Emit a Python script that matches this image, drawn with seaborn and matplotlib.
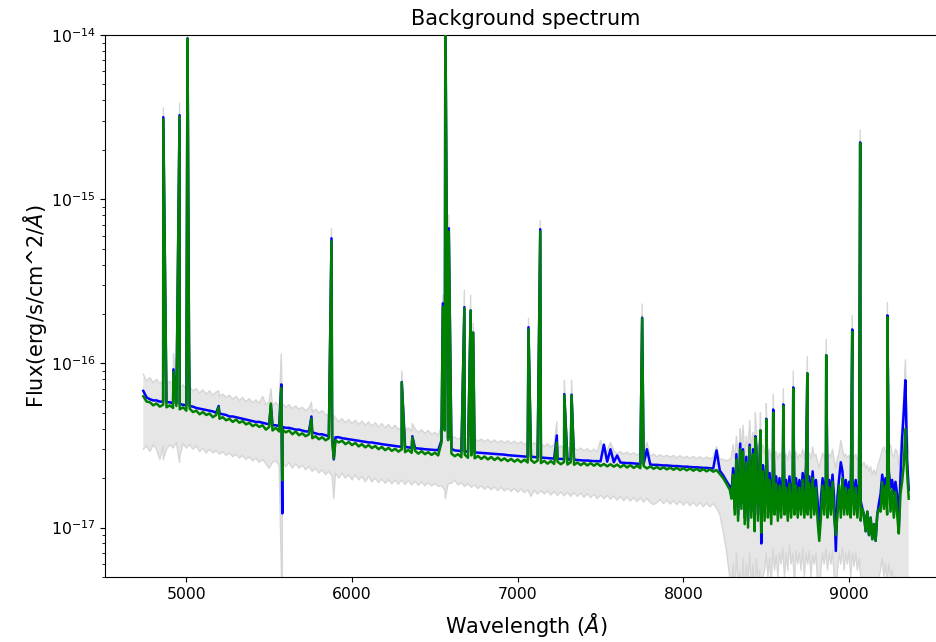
import numpy as np
import matplotlib
matplotlib.use("Agg")
import matplotlib.pyplot as plt
import seaborn as sns

# Sampling: 20 A steps over 4740-8280 A, 10 A steps over the red, sky-dominated part 8290-9360 A
seg_a_start, seg_a_step, seg_a_count = 4740, 20, 178
seg_b_start, seg_b_step, seg_b_count = 8290, 10, 108

# Fluxes in units of 1e-17 erg/s/cm^2/A
flux_green = [
    6.3, 5.85, 5.8, 5.55, 5.7, 5.45, 5.6, 5.4, 5.55, 5.35,
    5.5, 5.25, 5.4, 5.15, 5.3, 5.05, 5.15, 4.9, 5.05, 4.85,
    4.95, 4.7, 4.85, 4.6, 4.7, 4.5, 4.6, 4.4, 4.55, 4.35,
    4.45, 4.25, 4.35, 4.15, 4.25, 4.1, 4.2, 3.95, 4.1, 3.9,
    4.05, 3.85, 3.95, 3.8, 3.9, 3.7, 3.85, 3.65, 3.75, 3.6,
    3.7, 3.5, 3.6, 3.45, 3.55, 3.4, 3.5, 3.35, 3.4, 3.3,
    3.38, 3.22, 3.32, 3.18, 3.28, 3.12, 3.22, 3.08, 3.18, 3.05,
    3.14, 3.0, 3.1, 2.96, 3.06, 2.93, 3.02, 2.9, 3.0, 2.88,
    2.97, 2.85, 2.94, 2.82, 2.92, 2.8, 2.88, 2.77, 2.86, 2.75,
    3.3, 3.9, 3.4, 2.82, 2.72, 2.8, 2.68, 2.78, 2.66, 2.75,
    2.64, 2.73, 2.62, 2.71, 2.6, 2.69, 2.58, 2.67, 2.56, 2.64,
    2.54, 2.62, 2.52, 2.6, 2.5, 2.59, 2.49, 2.58, 2.48, 2.56,
    2.47, 2.55, 2.45, 2.54, 2.44, 2.52, 2.43, 2.51, 2.42, 2.5,
    2.41, 2.49, 2.4, 2.48, 2.39, 2.47, 2.38, 2.46, 2.37, 2.44,
    2.36, 2.43, 2.35, 2.42, 2.33, 2.41, 2.32, 2.4, 2.31, 2.38,
    2.3, 2.37, 2.29, 2.36, 2.28, 2.34, 2.27, 2.33, 2.26, 2.32,
    2.25, 2.31, 2.24, 2.3, 2.23, 2.29, 2.22, 2.28, 2.21, 2.27,
    2.2, 2.26, 2.19, 2.24, 2.12, 2.0, 1.85, 1.7,
    # 8290 A onwards
    1.5, 2.1, 1.2, 2.6, 1.1, 2.3, 1.3, 2.9, 1.05, 2.5,
    1.0, 3.1, 1.15, 2.8, 0.95, 2.9, 1.1, 2.4, 0.93, 2.2,
    1.1, 2.2, 1.15, 1.95, 1.05, 2.0, 1.2, 1.85, 1.1, 1.8,
    1.15, 1.9, 1.2, 1.75, 1.1, 1.85, 1.15, 1.7, 1.2, 1.8,
    1.15, 1.75, 1.2, 1.95, 1.15, 1.7, 1.2, 1.85, 1.15, 2.0,
    1.2, 1.75, 1.1, 0.83, 1.15, 1.8, 1.2, 1.85, 1.15, 1.75,
    1.2, 1.9, 1.15, 0.9, 1.2, 1.8, 1.15, 2.0, 1.2, 1.75,
    1.2, 1.7, 1.15, 1.8, 1.2, 1.75, 1.15, 1.65, 1.1, 1.3,
    1.2, 0.95, 1.25, 0.9, 1.15, 0.85, 1.05, 0.83, 1.2, 1.3,
    1.25, 1.9, 1.3, 1.8, 1.2, 1.95, 1.25, 1.7, 1.15, 1.65,
    1.2, 0.92, 1.6, 1.9, 2.4, 4.0, 2.2, 1.5,
]

flux_blue = [
    6.8, 6.2, 6.05, 5.95, 5.95, 5.85, 5.85, 5.8, 5.8, 5.7,
    5.75, 5.65, 5.6, 5.55, 5.5, 5.45, 5.35, 5.3, 5.25, 5.2,
    5.15, 5.1, 5.0, 4.95, 4.9, 4.85, 4.75, 4.75, 4.7, 4.65,
    4.6, 4.55, 4.5, 4.45, 4.4, 4.4, 4.35, 4.3, 4.25, 4.2,
    4.2, 4.15, 4.1, 4.05, 4.05, 4.0, 3.95, 3.95, 3.9, 3.85,
    3.85, 3.8, 3.75, 3.7, 3.7, 3.65, 3.6, 3.6, 3.55, 3.55,
    3.5, 3.48, 3.45, 3.43, 3.4, 3.38, 3.35, 3.33, 3.3, 3.3,
    3.27, 3.25, 3.22, 3.2, 3.18, 3.16, 3.14, 3.12, 3.1, 3.1,
    3.08, 3.06, 3.05, 3.03, 3.02, 3.0, 2.99, 2.98, 2.97, 2.96,
    3.4, 4.0, 3.5, 3.02, 2.95, 2.94, 2.92, 2.91, 2.9, 2.89,
    2.87, 2.86, 2.85, 2.84, 2.83, 2.82, 2.81, 2.8, 2.79, 2.78,
    2.76, 2.75, 2.74, 2.73, 2.72, 2.71, 2.7, 2.7, 2.69, 2.68,
    2.67, 2.66, 2.65, 2.64, 2.63, 2.62, 2.62, 2.61, 2.6, 2.6,
    2.59, 2.58, 2.57, 2.56, 2.56, 2.55, 2.54, 2.54, 2.53, 3.2,
    2.52, 3.0, 2.5, 2.75, 2.49, 2.48, 2.47, 2.47, 2.46, 2.45,
    2.44, 2.44, 3.0, 2.42, 2.41, 2.41, 2.4, 2.39, 2.39, 2.38,
    2.37, 2.37, 2.36, 2.35, 2.35, 2.34, 2.33, 2.33, 2.32, 2.31,
    2.31, 2.3, 2.29, 2.95, 2.22, 2.08, 1.92, 1.78,
    # 8290 A onwards
    1.6, 2.3, 1.3, 2.8, 1.2, 2.5, 1.4, 3.0, 1.15, 2.7,
    1.1, 3.2, 1.25, 3.0, 1.05, 3.1, 1.2, 2.6, 0.8, 2.4,
    1.45, 2.4, 1.5, 2.15, 1.4, 2.2, 1.55, 2.05, 1.45, 2.0,
    1.5, 2.1, 1.55, 1.95, 1.45, 2.05, 1.5, 1.9, 1.55, 2.0,
    1.5, 1.95, 1.55, 2.15, 1.5, 2.4, 1.55, 2.05, 1.5, 2.2,
    1.55, 1.95, 1.45, 0.9, 1.5, 2.0, 1.55, 2.05, 1.5, 1.95,
    1.55, 2.1, 1.5, 0.72, 1.55, 2.0, 2.5, 2.2, 1.55, 1.95,
    1.55, 1.9, 1.5, 2.0, 1.55, 1.95, 1.5, 1.85, 1.45, 1.3,
    1.2, 0.95, 1.25, 0.9, 1.15, 0.85, 1.05, 0.83, 1.2, 1.4,
    1.6, 2.1, 1.75, 2.0, 1.65, 2.2, 1.75, 1.95, 1.6, 1.9,
    1.6, 1.0, 2.0, 3.5, 5.0, 7.9, 2.6, 1.7,
]

# Upper and lower envelope of the uncertainty band
band_upper = [
    8.6, 7.8, 8.2, 7.6, 8.0, 7.5, 7.9, 7.4, 7.8, 7.3,
    7.6, 7.1, 7.4, 6.9, 7.2, 6.8, 7.0, 6.6, 6.9, 6.5,
    6.8, 6.4, 6.7, 6.3, 6.5, 6.2, 6.4, 6.05, 6.3, 5.95,
    6.2, 5.85, 6.1, 5.75, 6.0, 5.7, 6.3, 5.6, 5.85, 5.55,
    5.8, 5.45, 5.7, 5.4, 5.6, 5.3, 5.5, 5.25, 5.4, 5.15,
    5.35, 5.05, 5.25, 5.0, 5.15, 4.9, 4.8, 4.55, 4.65, 4.4,
    4.6, 4.35, 4.55, 4.3, 4.5, 4.25, 4.45, 4.2, 4.4, 4.15,
    4.35, 4.1, 4.3, 4.05, 4.25, 4.0, 4.2, 3.95, 4.1, 3.9,
    4.05, 3.85, 4.0, 3.8, 3.95, 3.75, 3.9, 3.7, 3.8, 3.65,
    4.2, 4.8, 4.2, 3.6, 3.55, 3.45, 3.55, 3.4, 3.5, 3.38,
    3.48, 3.35, 3.46, 3.33, 3.44, 3.3, 3.42, 3.28, 3.4, 3.27,
    3.38, 3.25, 3.36, 3.23, 3.34, 3.2, 3.32, 3.18, 3.3, 3.15,
    3.27, 3.12, 3.24, 3.1, 3.2, 3.05, 3.15, 3.02, 3.1, 2.98,
    3.08, 2.95, 3.05, 2.92, 3.02, 2.9, 3.0, 2.88, 3.4, 2.86,
    2.95, 3.3, 2.93, 2.82, 2.9, 2.8, 2.88, 2.78, 2.86, 2.76,
    2.84, 2.74, 3.3, 2.72, 2.8, 2.7, 2.78, 2.69, 2.76, 2.68,
    2.75, 2.66, 2.74, 2.65, 2.72, 2.64, 2.71, 2.63, 2.7, 2.62,
    2.69, 2.62, 2.68, 3.1, 2.62, 2.6, 2.55, 2.6,
    # 8290 A onwards
    2.7, 3.2, 2.6, 3.6, 2.8, 3.4, 2.9, 4.2, 2.8, 3.6,
    2.9, 4.5, 3.0, 3.8, 2.8, 4.0, 3.0, 3.4, 2.7, 3.2,
    2.8, 3.3, 2.7, 3.0, 2.6, 3.1, 2.75, 2.9, 2.6, 2.85,
    2.7, 3.0, 2.6, 2.8, 2.55, 2.95, 2.65, 2.75, 2.6, 2.9,
    2.6, 2.8, 2.7, 3.0, 2.6, 3.3, 2.65, 2.85, 2.6, 3.1,
    2.7, 2.8, 2.5, 2.3, 2.6, 2.85, 2.65, 2.9, 2.6, 2.8,
    2.7, 3.0, 2.6, 2.3, 2.65, 2.85, 3.4, 3.0, 2.7, 2.8,
    2.65, 2.75, 2.6, 2.85, 2.65, 2.8, 2.6, 2.7, 2.5, 2.4,
    2.5, 2.3, 2.4, 2.2, 2.35, 2.1, 2.25, 2.1, 2.3, 2.5,
    2.7, 3.0, 3.1, 2.9, 2.7, 3.0, 3.2, 2.8, 2.7, 3.0,
    2.9, 2.4, 3.0, 4.5, 6.5, 10.5, 4.0, 2.8,
]

band_lower = [
    3.0, 3.15, 2.9, 3.2, 3.0, 2.6, 3.15, 3.0, 3.2, 3.05,
    3.3, 2.7, 3.25, 3.05, 3.2, 3.0, 3.15, 2.9, 3.05, 2.85,
    3.0, 2.85, 2.95, 2.8, 2.9, 2.75, 2.85, 2.7, 2.8, 2.65,
    2.75, 2.6, 2.7, 2.55, 2.65, 2.5, 2.6, 2.45, 2.3, 2.5,
    2.55, 2.4, 2.5, 2.35, 2.5, 2.3, 2.45, 2.3, 2.4, 2.25,
    2.35, 2.2, 2.3, 2.15, 2.25, 2.1, 2.2, 2.05, 2.15, 2.0,
    2.15, 2.0, 2.1, 1.95, 2.1, 1.95, 2.05, 1.9, 2.05, 1.9,
    2.0, 1.88, 1.98, 1.86, 1.96, 1.85, 1.95, 1.84, 1.95, 1.83,
    1.94, 1.82, 1.92, 1.81, 1.9, 1.8, 1.88, 1.79, 1.86, 1.78,
    1.8, 1.7, 1.85, 1.86, 1.95, 1.82, 1.88, 1.78, 1.85, 1.76,
    1.82, 1.73, 1.8, 1.71, 1.78, 1.7, 1.77, 1.68, 1.76, 1.67,
    1.74, 1.66, 1.73, 1.64, 1.72, 1.63, 1.7, 1.55, 1.69, 1.6,
    1.68, 1.6, 1.67, 1.58, 1.66, 1.57, 1.65, 1.56, 1.64, 1.55,
    1.63, 1.55, 1.62, 1.53, 1.61, 1.52, 1.6, 1.5, 1.58, 1.5,
    1.57, 1.49, 1.56, 1.47, 1.55, 1.46, 1.54, 1.45, 1.53, 1.44,
    1.52, 1.43, 1.51, 1.42, 1.38, 1.42, 1.48, 1.4, 1.47, 1.39,
    1.46, 1.38, 1.45, 1.37, 1.44, 1.36, 1.43, 1.35, 1.42, 1.34,
    1.41, 1.34, 1.4, 1.32, 1.2, 0.95, 0.72, 0.5,
    # 8290 A onwards
    0.42, 0.6, 0.38, 0.7, 0.45, 0.55, 0.35, 0.65, 0.4, 0.6,
    0.45, 0.7, 0.4, 0.6, 0.35, 0.65, 0.45, 0.55, 0.3, 0.5,
    0.55, 0.7, 0.5, 0.65, 0.45, 0.75, 0.55, 0.68, 0.5, 0.7,
    0.6, 0.75, 0.5, 0.7, 0.55, 0.78, 0.6, 0.7, 0.45, 0.72,
    0.6, 0.7, 0.55, 0.75, 0.5, 0.7, 0.6, 0.72, 0.5, 0.68,
    0.6, 0.7, 0.45, 0.35, 0.55, 0.7, 0.6, 0.74, 0.55, 0.7,
    0.6, 0.72, 0.5, 0.35, 0.55, 0.7, 0.6, 0.75, 0.55, 0.7,
    0.6, 0.72, 0.5, 0.7, 0.58, 0.7, 0.55, 0.65, 0.5, 0.45,
    0.5, 0.4, 0.45, 0.35, 0.45, 0.35, 0.4, 0.3, 0.45, 0.5,
    0.55, 0.65, 0.5, 0.6, 0.45, 0.6, 0.5, 0.55, 0.4, 0.5,
    0.45, 0.3, 0.5, 0.45, 0.4, 0.5, 0.45, 0.5,
]

# Emission features (nebular + sky lines): centre, peak flux of each spectrum, band top
line_wave = [4861, 4922, 4959, 5007, 5016, 5195, 5510, 5573, 5579, 5755,
             5876, 5890, 6300, 6364, 6548, 6563, 6584, 6678, 6716, 6731,
             7065, 7136, 7236, 7281, 7325, 7751, 8343, 8434, 8465, 8500,
             8542, 8603, 8663, 8748, 8862, 9019, 9067, 9231]
line_green = [307, 8.9, 318, 950, 12.9, 5.4, 5.7, 7.1, 1.94, 4.6,
              55.6, 2.63, 7.66, 3.54, 22, 1500, 63.6, 21.6, 21.0, 15.4,
              16.1, 63.6, 3.3, 6.38, 6.38, 18.8, 3.0, 3.54, 3.9, 4.56,
              5.0, 5.5, 7.0, 8.7, 11.2, 15.6, 219, 19.1]
line_blue = [316, 9.2, 325, 955, 13.0, 5.5, 5.6, 7.45, 1.22, 4.75,
             57.8, 2.6, 7.7, 3.6, 23.2, 1500, 66.5, 22, 21.0, 15.4,
             16.6, 65.6, 3.64, 6.5, 6.45, 19.0, 3.25, 3.6, 3.9, 4.6,
             5.24, 5.62, 7.14, 8.7, 11.2, 16.1, 222, 19.6]
line_band = [360, 11.5, 385, 1000, 14.5, 6.8, 7.0, 11.4, 5.7, 5.8,
             66.5, 4.8, 9.0, 4.3, 26, 1600, 80, 27.9, 26, 17.5,
             18.8, 74, 4.4, 7.9, 7.9, 23, 4.0, 5.0, 5.0, 5.7,
             6.5, 7.0, 9.0, 11, 14, 19.6, 264, 23.5]

# Deep dips in the lower envelope (sky residuals)
dip_wave = [4861, 4959, 5579, 5890, 6563]
dip_lower = [2.6, 2.5, 0.3, 1.5, 1.5]

UNIT = 1e-17
wave = np.concatenate([
    seg_a_start + seg_a_step * np.arange(seg_a_count),
    seg_b_start + seg_b_step * np.arange(seg_b_count),
]).astype(float)


def with_features(base, feat_wave, feat_vals):
    x = np.concatenate([wave, np.asarray(feat_wave, float)])
    y = np.concatenate([np.asarray(base, float), np.asarray(feat_vals, float)])
    order = np.argsort(x, kind="stable")
    return x[order], y[order] * UNIT


xg, yg = with_features(flux_green, line_wave, line_green)
xb, yb = with_features(flux_blue, line_wave, line_blue)
xu, yu = with_features(band_upper, line_wave, line_band)
xl, yl = with_features(band_lower, dip_wave, dip_lower)

fig = plt.figure(figsize=(9.37, 6.42), dpi=100)
ax = fig.add_axes([105 / 937, 1 - 577 / 642, 842 / 937, 542 / 642])

# uncertainty band
ax.fill(np.concatenate([xu, xl[::-1]]), np.concatenate([yu, yl[::-1]]),
        color="#e6e6e6", lw=0, zorder=1)
ax.plot(xu, yu, color="#d6d6d6", lw=1.0, zorder=1.5)
ax.plot(xl, yl, color="#d6d6d6", lw=1.0, zorder=1.5)

sns.lineplot(x=xb, y=yb, color="blue", linewidth=1.8, estimator=None,
             sort=False, ax=ax, zorder=2)
sns.lineplot(x=xg, y=yg, color="green", linewidth=1.8, estimator=None,
             sort=False, ax=ax, zorder=3)

ax.set_yscale("log")
ax.set_ylim(5e-18, 1e-14)
ax.set_yticks([1e-17, 1e-16, 1e-15, 1e-14])
ax.set_xlim(4509, 9591)
ax.set_xticks([5000, 6000, 7000, 8000, 9000])

ax.set_title("Background spectrum", fontsize=15, pad=7)
ax.set_xlabel(r"Wavelength ($\AA$)", fontsize=15, labelpad=7)
ax.set_ylabel(r"Flux(erg/s/cm^2/$\AA$)", fontsize=15, labelpad=1)
ax.tick_params(axis="both", which="major", labelsize=11.3)

fig.savefig("out.png", dpi=100)
